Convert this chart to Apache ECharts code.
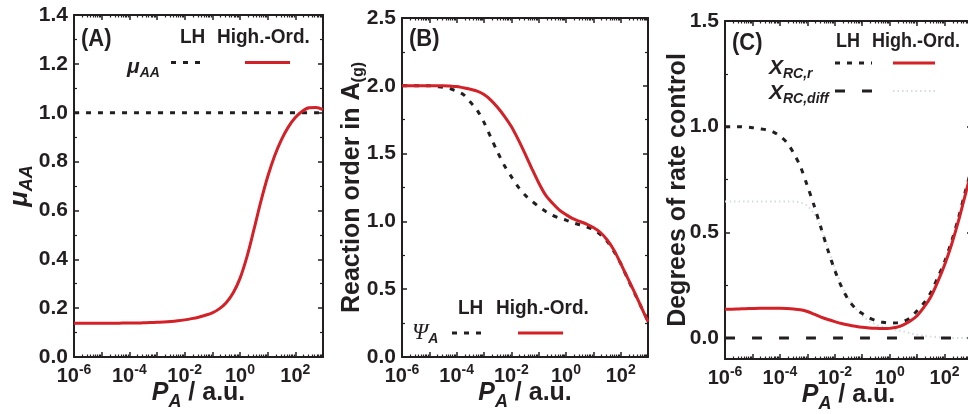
<!DOCTYPE html>
<html><head><meta charset="utf-8">
<script src="https://cdn.jsdelivr.net/npm/echarts@6/dist/echarts.min.js"></script>
<style>html,body{margin:0;padding:0;background:#fff}#c{width:968px;height:414px}</style>
</head><body><div id="c"></div>
<script>
// ---- data (x = log10 of P_A / a.u.) ----
const logP = [-6,-5.75,-5.5,-5.25,-5,-4.75,-4.5,-4.25,-4,-3.75,-3.5,-3.25,-3,-2.75,-2.5,-2.25,-2,-1.75,-1.5,-1.25,-1,-0.75,-0.5,-0.25,0,0.25,0.5,0.75,1,1.25,1.5,1.75,2,2.25,2.5,2.75,3];
const xLabelExps = [-6,-4,-2,0,2];
// Panel A
const muAA_LH = [1,1,1,1,1,1,1,1,1,1,1,1,1,1,1,1,1,1,1,1,1,1,1,1,1,1,1,1,1,1,1,1,1,1,1,1,1];
const muAA_HO = [0.138,0.138,0.138,0.138,0.138,0.138,0.138,0.139,0.139,0.139,0.140,0.141,0.142,0.143,0.145,0.148,0.152,0.157,0.163,0.171,0.181,0.197,0.222,0.262,0.322,0.41,0.52,0.635,0.738,0.823,0.89,0.942,0.98,1.006,1.02,1.021,1.013];
const yTicksA = [0,0.2,0.4,0.6,0.8,1.0,1.2,1.4];
const yMinorA = [0.1,0.3,0.5,0.7,0.9,1.1,1.3];
// Panel B
const psiA_LH = [2.0,2.0,2.0,2.0,2.0,1.995,1.99,1.98,1.96,1.935,1.88,1.82,1.73,1.62,1.51,1.41,1.33,1.255,1.195,1.15,1.11,1.075,1.045,1.025,1.01,0.99,0.975,0.96,0.94,0.905,0.855,0.78,0.69,0.58,0.475,0.37,0.265];
const psiA_HO = [2.0,2.0,2.0,2.0,2.0,2.0,2.0,1.998,1.995,1.985,1.975,1.96,1.935,1.895,1.84,1.775,1.70,1.605,1.50,1.39,1.285,1.195,1.135,1.085,1.05,1.02,1.0,0.98,0.955,0.92,0.865,0.79,0.69,0.585,0.48,0.37,0.26];
const yTicksB = [0,0.5,1.0,1.5,2.0,2.5];
const yMinorB = [0.25,0.75,1.25,1.75,2.25];
// Panel C
const xrcR_LH = [1.0,1.0,1.0,0.998,0.995,0.99,0.985,0.975,0.955,0.925,0.875,0.81,0.72,0.625,0.52,0.415,0.32,0.24,0.18,0.14,0.115,0.095,0.082,0.074,0.07,0.071,0.078,0.095,0.128,0.165,0.215,0.285,0.36,0.455,0.565,0.69,0.81];
const xrcR_HO = [0.136,0.136,0.137,0.138,0.139,0.14,0.14,0.14,0.14,0.139,0.137,0.133,0.125,0.112,0.098,0.087,0.077,0.068,0.061,0.055,0.05,0.047,0.045,0.044,0.045,0.05,0.062,0.08,0.105,0.145,0.195,0.265,0.345,0.44,0.55,0.675,0.80];
const xrcDiff_LH = [0,0,0,0,0,0,0,0,0,0,0,0,0,0,0,0,0,0,0,0,0,0,0,0,0,0,0,0,0,0,0,0,0,0,0,0,0];
const xrcDiff_HO = [0.645,0.645,0.645,0.645,0.645,0.645,0.645,0.645,0.645,0.645,0.645,0.64,0.625,0.585,0.52,0.43,0.33,0.25,0.19,0.14,0.105,0.08,0.063,0.052,0.045,0.037,0.03,0.022,0.015,0.01,0.006,0.003,0.001,0,0,0,0];
const yTicksC = [0,0.5,1.0,1.5];
const yMinorC = [0.25,0.75,1.25];

// ---- styling ----
const INK = '#231f20', RED = '#d42027', FAINT = '#d3dbe5';
const FF = '"Liberation Sans", Arial, Helvetica, sans-serif';
const SERIF = '"Liberation Serif", "Times New Roman", serif';
const majorX = []; for (let n = -6; n <= 3; n++) majorX.push(n);
const minorX = []; for (let n = -6; n < 3; n++) for (let k = 2; k <= 9; k++) minorX.push(n + Math.log10(k));

const grids = [
  {left: 74, right: 645, top: 15, bottom: 57},
  {left: 402, right: 320, top: 18, bottom: 57},
  {left: 725, right: -4, top: 21, bottom: 55}
];
const xAxes = [], yAxes = [];
function pairs(ys) { return logP.map((x, i) => [x, ys[i]]); }

function addAxes(g, yMin, yMax, yLab, yMin2, yName, yGap, yRich) {
  const line = {show: true, onZero: false, lineStyle: {color: INK, width: 2}};
  const noLine = {show: false, onZero: false};
  const base = {gridIndex: g, type: 'value', min: -6, max: 3, splitLine: {show: false}};
  xAxes.push(Object.assign({}, base, {position: 'bottom', axisLine: line,
    axisTick: {show: true, inside: true, length: 5, customValues: majorX, lineStyle: {color: INK, width: 1.5}},
    axisLabel: {customValues: xLabelExps, margin: 6, formatter: v => '{b|10}{s|' + v + '}',
      rich: {b: {fontSize: 20, fontWeight: 'bold', fontFamily: FF, color: INK},
             s: {fontSize: 14, fontWeight: 'bold', fontFamily: FF, color: INK, padding: [0, 0, 13, 0]}}},
    name: '{p|P}{a|A}{t| / a.u.}', nameLocation: 'middle', nameGap: 18, nameMoveOverlap: false,
    nameTextStyle: {rich: {
      p: {fontSize: 25, fontWeight: 'bold', fontStyle: 'italic', fontFamily: FF, color: INK},
      a: {fontSize: 18, fontWeight: 'bold', fontStyle: 'italic', fontFamily: FF, color: INK, padding: [18, 0, 0, 0]},
      t: {fontSize: 25, fontWeight: 'bold', fontFamily: FF, color: INK}}}
  }));
  xAxes.push(Object.assign({}, base, {position: 'bottom', axisLine: noLine,
    axisTick: {show: true, inside: true, length: 2.5, customValues: minorX, lineStyle: {color: INK, width: 1.2}},
    axisLabel: {show: false}}));
  xAxes.push(Object.assign({}, base, {position: 'top', axisLine: line,
    axisTick: {show: true, inside: true, length: 5, customValues: majorX, lineStyle: {color: INK, width: 1.5}},
    axisLabel: {show: false}}));
  xAxes.push(Object.assign({}, base, {position: 'top', axisLine: noLine,
    axisTick: {show: true, inside: true, length: 2.5, customValues: minorX, lineStyle: {color: INK, width: 1.2}},
    axisLabel: {show: false}}));

  const ybase = {gridIndex: g, type: 'value', min: yMin, max: yMax, splitLine: {show: false}};
  yAxes.push(Object.assign({}, ybase, {position: 'left', axisLine: line,
    axisTick: {show: true, inside: true, length: 5, customValues: yLab, lineStyle: {color: INK, width: 1.5}},
    axisLabel: {customValues: yLab, margin: 6, formatter: v => v.toFixed(1),
      fontSize: 21, fontWeight: 'bold', fontFamily: FF, color: INK},
    name: yName, nameLocation: 'middle', nameRotate: 90, nameGap: yGap, nameMoveOverlap: false,
    nameTextStyle: {rich: yRich}}));
  yAxes.push(Object.assign({}, ybase, {position: 'left', axisLine: noLine,
    axisTick: {show: true, inside: true, length: 3, customValues: yMin2, lineStyle: {color: INK, width: 1.2}},
    axisLabel: {show: false}}));
  yAxes.push(Object.assign({}, ybase, {position: 'right', axisLine: line,
    axisTick: {show: true, inside: true, length: 5, customValues: yLab, lineStyle: {color: INK, width: 1.5}},
    axisLabel: {show: false}}));
  yAxes.push(Object.assign({}, ybase, {position: 'right', axisLine: noLine,
    axisTick: {show: true, inside: true, length: 3, customValues: yMin2, lineStyle: {color: INK, width: 1.2}},
    axisLabel: {show: false}}));
}

addAxes(0, 0, 1.4, yTicksA, yMinorA, '{m|μ}{s|AA}', 38, {
  m: {fontSize: 26, fontWeight: 'bold', fontStyle: 'italic', fontFamily: FF, color: INK},
  s: {fontSize: 18, fontWeight: 'bold', fontStyle: 'italic', fontFamily: FF, color: INK, padding: [14, 0, 0, 0]}});
addAxes(1, 0, 2.5, yTicksB, yMinorB, '{t|Reaction order in A}{s|(g)}', 35, {
  t: {fontSize: 25, fontWeight: 'bold', fontFamily: FF, color: INK},
  s: {fontSize: 16, fontWeight: 'bold', fontFamily: FF, color: INK, padding: [14, 0, 0, 0]}});
addAxes(2, -0.1, 1.5, yTicksC, yMinorC, '{t|Degrees of rate control}', 34, {
  t: {fontSize: 25, fontWeight: 'bold', fontFamily: FF, color: INK}});

function ser(g, ys, color, type, width) {
  return {type: 'line', xAxisIndex: 4 * g, yAxisIndex: 4 * g, data: pairs(ys), showSymbol: false,
    smooth: 0.3, silent: true, animation: false,
    lineStyle: {color: color, width: width || 3, type: type || 'solid', cap: 'butt'}};
}
const DOT = [5, 7];
const DASH = [10, 17];
const series = [
  ser(0, muAA_LH, INK, DOT), ser(0, muAA_HO, RED),
  ser(1, psiA_LH, INK, DOT), ser(1, psiA_HO, RED),
  ser(2, xrcDiff_HO, FAINT, [1.5, 3], 2), ser(2, xrcDiff_LH, INK, DASH),
  ser(2, xrcR_LH, INK, DOT), ser(2, xrcR_HO, RED)
];

function txt(x, y, text, size) {
  return {type: 'text', x: x, y: y, scaleY: 1.08, silent: true, style: {text: text, fill: INK,
    font: 'bold ' + size + 'px ' + FF, textAlign: 'left', textVerticalAlign: 'middle'}};
}
function rtxt(x, y, text) {
  return {type: 'text', x: x, y: y, silent: true, style: {text: text, rich: legRich, textVerticalAlign: 'middle'}};
}
function seg(x1, x2, y, color, dash, w) {
  return {type: 'line', silent: true, shape: {x1: x1, y1: y, x2: x2, y2: y},
    style: {stroke: color, lineWidth: w || 3, lineDash: dash || null}};
}
const legRich = {
  i: {fontSize: 21, fontWeight: 'bold', fontStyle: 'italic', fontFamily: FF, fill: INK},
  g: {fontSize: 23, fontStyle: 'italic', fontFamily: SERIF, fill: INK},
  s: {fontSize: 14, fontWeight: 'bold', fontStyle: 'italic', fontFamily: FF, fill: INK, padding: [12, 0, 0, 0]}
};
const graphic = [
  txt(81, 39, '(A)', 22), txt(409, 39, '(B)', 22), txt(732, 43, '(C)', 22),
  // legend A
  txt(180, 37, 'LH', 19), txt(217, 37, 'High.-Ord.', 19),
  rtxt(127, 67, '{i|μ}{s|AA}'),
  seg(171, 207, 62.5, INK, DOT), seg(245, 290, 62.5, RED),
  // legend B
  txt(458, 308, 'LH', 19), txt(496, 308, 'High.-Ord.', 19),
  rtxt(412, 333, '{g|Ψ}{s|A}'),
  seg(452, 487, 333, INK, DOT), seg(518, 563, 333, RED),
  // legend C
  txt(836, 42, 'LH', 18), txt(872, 42, 'High.-Ord.', 18),
  rtxt(769, 68, '{i|X}{s|RC,r}'),
  seg(835, 872, 63, INK, DOT), seg(893, 935, 63, RED),
  rtxt(769, 93, '{i|X}{s|RC,diff}'),
  seg(835, 872, 91, INK, DASH), seg(893, 935, 91, FAINT, [1.5, 3], 2)
];

const chart = echarts.init(document.getElementById('c'), null, {renderer: 'canvas'});
chart.setOption({
  animation: false, backgroundColor: '#fff',
  grid: grids.map(g => Object.assign({containLabel: false, outerBoundsMode: 'none'}, g)),
  xAxis: xAxes, yAxis: yAxes, series: series, graphic: graphic
});
</script></body></html>
